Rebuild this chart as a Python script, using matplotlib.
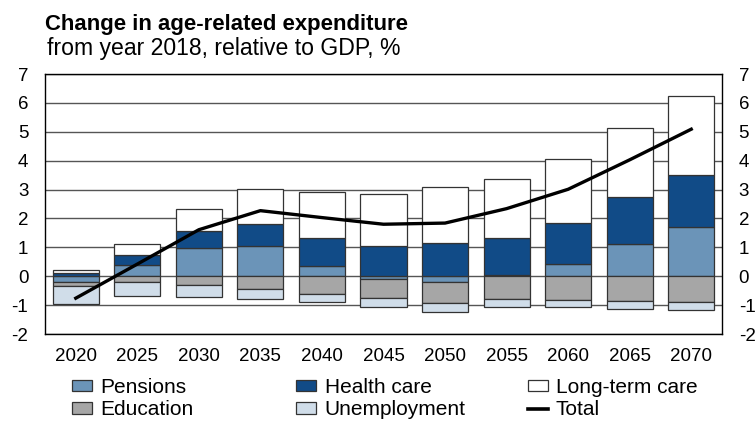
"""Stacked bar chart of age-related expenditure changes with a total line."""

import matplotlib

matplotlib.use("Agg")
import matplotlib.pyplot as plt
import numpy as np
from matplotlib.lines import Line2D
from matplotlib.patches import Patch

plt.rcParams["font.family"] = ["Liberation Sans", "DejaVu Sans"]

years = ["2020", "2025", "2030", "2035", "2040", "2045",
         "2050", "2055", "2060", "2065", "2070"]
pensions = [-0.20, 0.38, 0.99, 1.04, 0.37, -0.10, -0.20, 0.03, 0.44, 1.13, 1.69]
health_care = [0.12, 0.35, 0.56, 0.76, 0.94, 1.04, 1.14, 1.28, 1.42, 1.63, 1.82]
long_term_care = [0.10, 0.37, 0.77, 1.23, 1.60, 1.81, 1.94, 2.06, 2.21, 2.38, 2.73]
education = [-0.13, -0.19, -0.29, -0.44, -0.60, -0.65, -0.74, -0.78, -0.82, -0.86, -0.88]
unemployment = [-0.63, -0.51, -0.44, -0.34, -0.30, -0.32, -0.29, -0.27, -0.26, -0.27, -0.28]
total = [-0.76, 0.42, 1.61, 2.27, 2.03, 1.80, 1.84, 2.34, 3.01, 4.03, 5.09]
y_ticks = [-2, -1, 0, 1, 2, 3, 4, 5, 6, 7]

colors = {
    "Pensions": "#6b94b8",
    "Health care": "#114b87",
    "Long-term care": "#ffffff",
    "Education": "#a6a6a6",
    "Unemployment": "#d0dde9",
}
series = [
    ("Pensions", pensions),
    ("Health care", health_care),
    ("Long-term care", long_term_care),
    ("Education", education),
    ("Unemployment", unemployment),
]

fig = plt.figure(figsize=(7.55, 4.23), dpi=100)
ax = fig.add_axes([0.0596, 0.2104, 0.8967, 0.6146])

# positive parts stack upwards from zero, negative parts downwards
x = np.arange(len(years))
pos_base = np.zeros(len(years))
neg_base = np.zeros(len(years))
for label, values in series:
    vals = np.array(values)
    base = np.where(vals >= 0, pos_base, neg_base)
    ax.bar(x, vals, bottom=base, width=0.75, color=colors[label],
           edgecolor="#333333", linewidth=0.9, zorder=2)
    pos_base += np.where(vals >= 0, vals, 0)
    neg_base += np.where(vals < 0, vals, 0)

ax.plot(x, total, color="black", linewidth=2.4, zorder=3)

ax.set_xlim(-0.5, len(years) - 0.5)
ax.set_ylim(-2, 7)
ax.set_yticks(y_ticks)
ax.set_yticklabels([str(v) for v in y_ticks])
ax.set_xticks(x)
ax.set_xticklabels(years)
ax.tick_params(axis="both", length=0, labelsize=13.5)
ax.tick_params(axis="y", right=True, labelright=True, pad=12)
ax.tick_params(axis="x", pad=10)
ax.grid(axis="y", color="#555555", linewidth=1.0, zorder=0)
ax.set_axisbelow(True)
for spine in ax.spines.values():
    spine.set_color("black")
    spine.set_linewidth(1.0)

fig.text(0.0596, 0.930, "Change in age-related expenditure",
         fontsize=15.9, fontweight="bold", ha="left", va="baseline")
fig.text(0.0623, 0.870, "from year 2018, relative to GDP, %",
         fontsize=16.6, ha="left", va="baseline")


def patch(label):
    return Patch(facecolor=colors[label], edgecolor="#333333", linewidth=0.9)


# legend split in three columns placed independently
columns = [
    ([patch("Pensions"), patch("Education")], ["Pensions", "Education"], 0.0957),
    ([patch("Health care"), patch("Unemployment")],
     ["Health care", "Unemployment"], 0.3927),
    ([patch("Long-term care"), Line2D([], [], color="black", linewidth=2.6)],
     ["Long-term care", "Total"], 0.699),
]
for handles, labels, left in columns:
    fig.legend(handles, labels, loc="upper left", bbox_to_anchor=(left, 0.1067),
               bbox_transform=fig.transFigure, frameon=False, fontsize=15,
               handlelength=0.95, handleheight=0.5, handletextpad=0.4,
               labelspacing=0.16, borderaxespad=0, borderpad=0)

fig.savefig("out.png", dpi=100)
